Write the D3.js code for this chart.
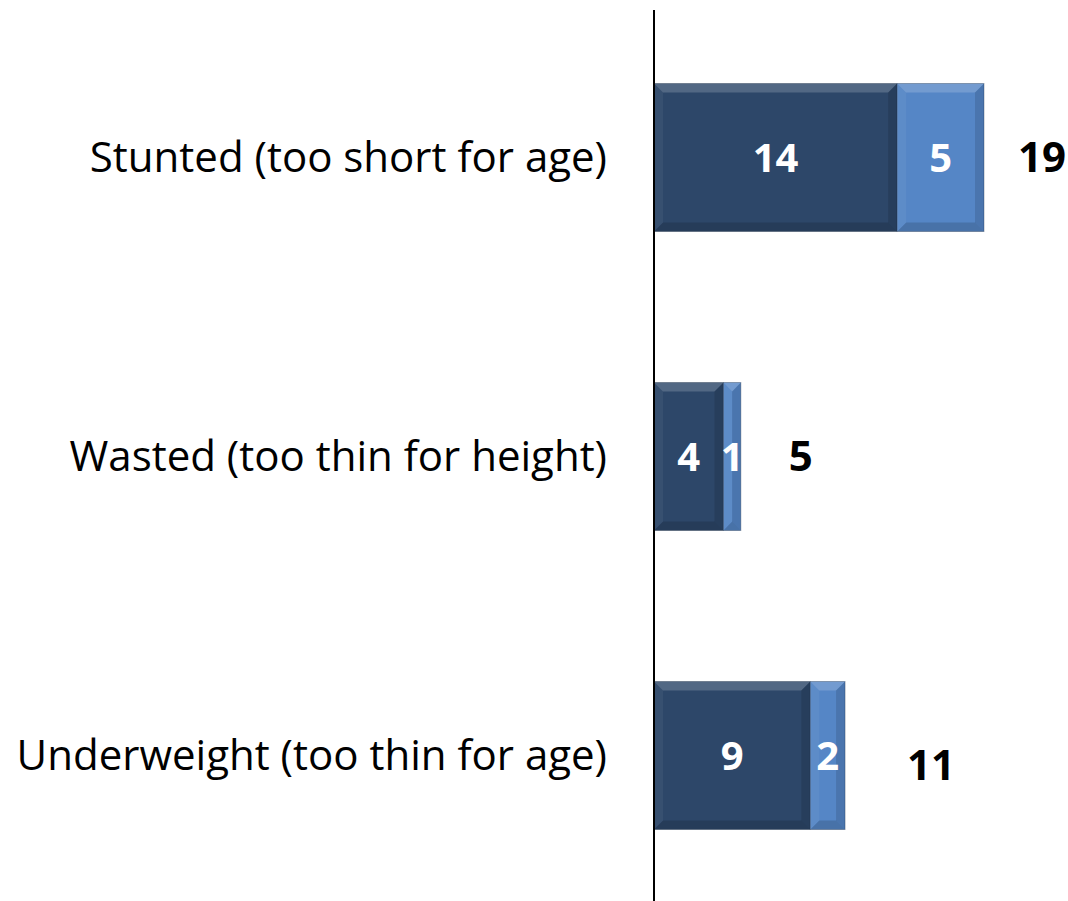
<!DOCTYPE html>
<html>
<head>
<meta charset="utf-8">
<script src="https://cdn.jsdelivr.net/npm/d3@7"></script>
<style>
  body { margin: 0; background: #fff; }
  text { font-family: "Open Sans", sans-serif; }
</style>
</head>
<body>
<div class="mainCont"></div>
<script>
var categories = ["Stunted (too short for age)", "Wasted (too thin for height)", "Underweight (too thin for age)"];
var severe = [14, 4, 9];
var moderate = [5, 1, 2];
var totals = [19, 5, 11];

var width = 1068, height = 901;
var axisX = 654;
var color = { severe: "#2d4769", moderate: "#5586c6" };

var svg = d3.select(".mainCont").append("svg")
    .attr("width", width)
    .attr("height", height);

// scales
var x = d3.scaleLinear()
    .domain([0, 19])
    .range([axisX, 984]);

var y = d3.scaleBand()
    .domain(categories)
    .range([8, 905])
    .paddingInner(0.505)
    .paddingOuter(0.2525);

// stacked rows
var rows = categories.map(function(c, i) {
    return [
        { cat: c, key: "severe", x0: 0, x1: severe[i], v: severe[i] },
        { cat: c, key: "moderate", x0: severe[i], x1: severe[i] + moderate[i], v: moderate[i] }
    ];
});
var segs = d3.merge(rows);

var bev = 9;
var g = svg.selectAll(".seg")
    .data(segs)
    .enter().append("g")
    .attr("class", "seg");

g.append("rect")
    .attr("x", function(d) { return x(d.x0); })
    .attr("y", function(d) { return y(d.cat); })
    .attr("width", function(d) { return x(d.x1) - x(d.x0); })
    .attr("height", y.bandwidth())
    .style("fill", function(d) { return color[d.key]; });

// bevel pieces: top light, bottom dark, left/right subtle
function bevel(d, side) {
    var x0 = x(d.x0), x1 = x(d.x1), y0 = y(d.cat), y1 = y0 + y.bandwidth();
    var b = Math.min(bev, (x1 - x0) / 2);
    if (side == "top") return [[x0, y0], [x1, y0], [x1 - b, y0 + bev], [x0 + b, y0 + bev]];
    if (side == "bottom") return [[x0, y1], [x1, y1], [x1 - b, y1 - bev], [x0 + b, y1 - bev]];
    if (side == "left") return [[x0, y0], [x0 + b, y0 + bev], [x0 + b, y1 - bev], [x0, y1]];
    return [[x1, y0], [x1 - b, y0 + bev], [x1 - b, y1 - bev], [x1, y1]];
}
var sides = [
    { s: "top", fill: "#ffffff", op: 0.18 },
    { s: "bottom", fill: "#000000", op: 0.15 },
    { s: "left", fill: "#ffffff", op: 0.05 },
    { s: "right", fill: "#000000", op: 0.12 }
];
sides.forEach(function(sd) {
    g.append("polygon")
        .attr("points", function(d) { return bevel(d, sd.s).join(" "); })
        .style("fill", sd.fill)
        .style("opacity", sd.op);
});
g.append("rect")
    .attr("x", function(d) { return x(d.x0); })
    .attr("y", function(d) { return y(d.cat); })
    .attr("width", function(d) { return x(d.x1) - x(d.x0); })
    .attr("height", y.bandwidth())
    .style("fill", "none")
    .style("stroke", "#1f3048")
    .style("stroke-opacity", 0.35)
    .style("stroke-width", 1);

// value labels inside segments
g.append("text")
    .attr("x", function(d) { return (x(d.x0) + x(d.x1)) / 2; })
    .attr("y", function(d) { return y(d.cat) + y.bandwidth() / 2; })
    .attr("dy", ".35em")
    .attr("text-anchor", "middle")
    .style("fill", "#fff")
    .style("font-weight", "bold")
    .style("font-size", "40px")
    .text(function(d) { return d.v; });

// totals
var totalNudge = [0, 2, 28];
var totalDy = [0, 0, 10];
svg.selectAll(".total")
    .data(totals)
    .enter().append("text")
    .attr("class", "total")
    .attr("x", function(d, i) { return x(d) + 58 + totalNudge[i]; })
    .attr("y", function(d, i) { return y(categories[i]) + y.bandwidth() / 2 + totalDy[i]; })
    .attr("dy", ".35em")
    .attr("text-anchor", "middle")
    .style("fill", "#000")
    .style("font-weight", "bold")
    .style("font-size", "42px")
    .text(function(d) { return d; });

// category labels
svg.selectAll(".cat")
    .data(categories)
    .enter().append("text")
    .attr("class", "cat")
    .attr("x", 607)
    .attr("y", function(d) { return y(d) + y.bandwidth() / 2; })
    .attr("dy", ".35em")
    .attr("text-anchor", "end")
    .style("fill", "#000")
    .style("font-size", "42px")
    .text(function(d) { return d; });

// vertical axis line
svg.append("line")
    .attr("x1", axisX).attr("x2", axisX)
    .attr("y1", 10).attr("y2", height)
    .style("stroke", "#000")
    .style("stroke-width", 2);
</script>
</body>
</html>
